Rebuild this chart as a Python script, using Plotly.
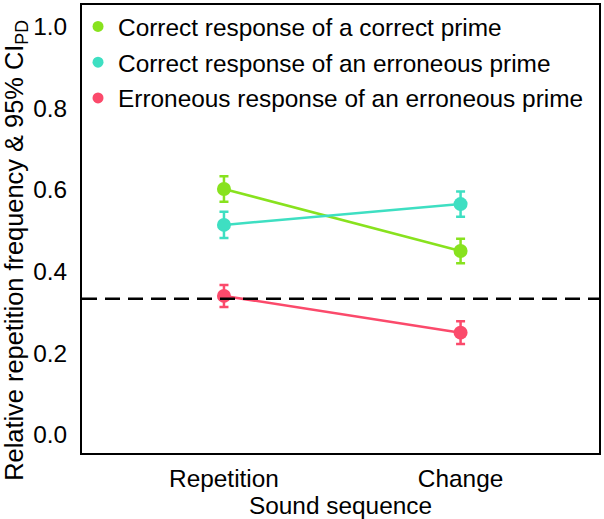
import plotly.graph_objects as go

categories = ["Repetition", "Change"]
x_pos = [1, 2]
series_names = [
    "Correct response of a correct prime",
    "Correct response of an erroneous prime",
    "Erroneous response of an erroneous prime",
]
series_values = [
    [0.602, 0.450],
    [0.514, 0.565],
    [0.340, 0.250],
]
series_err = [
    [0.031, 0.030],
    [0.032, 0.031],
    [0.027, 0.028],
]
colors = ["#88E21E", "#3EDFC2", "#FB4A6B"]
chance_level = 1 / 3
y_ticks = [0.0, 0.2, 0.4, 0.6, 0.8, 1.0]
y_title = "Relative repetition frequency & 95% CI<sub>PD</sub>"
x_title = "Sound sequence"

FONT = "Liberation Sans, Arial, Helvetica, sans-serif"
FS = 24.4

fig = go.Figure()

for name, vals, errs, col in zip(series_names, series_values, series_err, colors):
    fig.add_trace(go.Scatter(
        x=x_pos, y=vals, mode="lines+markers",
        line=dict(color=col, width=2.5),
        marker=dict(color=col, size=14),
        error_y=dict(type="data", array=errs, visible=True, color=col,
                     thickness=2.5, width=4.5),
        showlegend=False, hoverinfo="skip",
    ))

# chance line
fig.add_hline(y=chance_level, line=dict(color="black", width=2.5, dash="15px,8px"))

# legend-only entries
for i, (name, col) in enumerate(zip(series_names, colors)):
    fig.add_trace(go.Scatter(
        x=[None], y=[None], mode="markers", name=name,
        marker=dict(color=col, size=11), legendgroup=f"g{i}",
    ))

fig.add_annotation(
    text=y_title, textangle=-90, xref="paper", yref="paper",
    x=-0.129, y=0.452, xanchor="center", yanchor="middle", showarrow=False,
    font=dict(size=25.4, family=FONT, color="black"),
)

fig.update_layout(
    width=604, height=519,
    margin=dict(l=82, r=3, t=5, b=66),
    paper_bgcolor="white", plot_bgcolor="white",
    font=dict(family=FONT, size=FS, color="black"),
    legend=dict(x=-0.0077, y=1.002, xanchor="left", yanchor="top",
                bgcolor="rgba(0,0,0,0)", font=dict(size=FS, family=FONT),
                tracegroupgap=1, itemwidth=30),
    xaxis=dict(range=[0.40, 2.585], tickvals=x_pos, ticktext=categories,
               showgrid=False, zeroline=False, showline=True, mirror=True,
               linecolor="black", linewidth=2, ticks="outside", ticklen=3,
               tickcolor="rgba(0,0,0,0)", tickfont=dict(size=FS, family=FONT),
               title=dict(text=x_title, standoff=5,
                          font=dict(size=FS, family=FONT))),
    yaxis=dict(range=[-0.045, 1.053], tickvals=y_ticks,
               ticktext=[f"{v:.1f}" for v in y_ticks],
               showgrid=False, zeroline=False, showline=True, mirror=True,
               linecolor="black", linewidth=2, ticks="outside", ticklen=8,
               tickcolor="rgba(0,0,0,0)", tickfont=dict(size=FS, family=FONT)),
)

fig.write_html("out.html")
